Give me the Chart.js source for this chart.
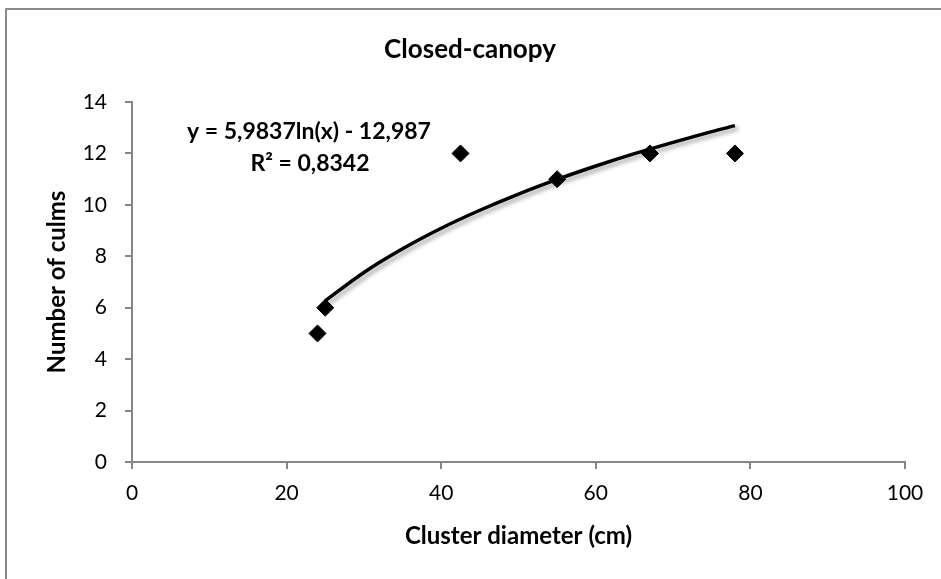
<!DOCTYPE html>
<html>
<head>
<meta charset="utf-8">
<script src="https://cdn.jsdelivr.net/npm/chart.js@4.4.0/dist/chart.umd.min.js"></script>
<style>
  html, body { margin: 0; padding: 0; background: #fff; overflow: hidden; }
  #wrap { position: relative; width: 941px; height: 579px; }
  #frame {
    position: absolute; left: 5px; top: 8px; width: 980px; height: 620px;
    border: 2px solid #8a8a8a; box-sizing: border-box; pointer-events: none;
  }
  canvas { position: absolute; left: 0; top: 0; }
</style>
</head>
<body>
<div id="wrap">
  <canvas id="c" width="941" height="579"></canvas>
  <div id="frame"></div>
</div>
<script>
// ── Data ───────────────────────────────────────────────
const TITLE      = 'Closed-canopy';
const X_LABEL    = 'Cluster diameter (cm)';
const Y_LABEL    = 'Number of culms';
const diameters  = [24, 25, 42.5, 55, 67, 78];
const culms      = [5, 6, 12, 11, 12, 12];
// log trendline
const trendX     = [25, 30, 35, 40, 45, 50, 55, 60, 65, 70, 75, 78];
const trendY     = [6.27, 7.37, 8.29, 9.09, 9.79, 10.42, 10.99, 11.51, 11.99, 12.43, 12.85, 13.08];
const EQ_LINES   = ['y = 5,9837ln(x) - 12,987', 'R² = 0,8342'];
const X_MIN = 0, X_MAX = 100, X_STEP = 20;
const Y_MIN = 0, Y_MAX = 14,  Y_STEP = 2;

const FONT   = 'Lato';
const AXIS_C = '#868686';

// ── Plugins ────────────────────────────────────────────
const _shadowPlugin = {
  id: 'trendShadow',
  beforeDatasetDraw(chart, args) {
    if (args.index !== 1) return;
    const ctx = chart.ctx;
    ctx.save();
    ctx.shadowColor = 'rgba(0,0,0,0.35)';
    ctx.shadowOffsetX = 3;
    ctx.shadowOffsetY = 3;
    ctx.shadowBlur = 4;
  },
  afterDatasetDraw(chart, args) {
    if (args.index !== 1) return;
    chart.ctx.restore();
  },
};

const _textPlugin = {
  id: 'texts',
  afterDraw(chart) {
    const { ctx, chartArea: ca } = chart;
    ctx.save();
    ctx.fillStyle = '#000';
    ctx.textAlign = 'center';
    ctx.textBaseline = 'alphabetic';
    ctx.font = `bold 26px ${FONT}`;
    ctx.fillText(TITLE, 470, 58);
    ctx.font = `bold 23px ${FONT}`;
    ctx.fillText(EQ_LINES[0], ca.left + 177, 139);
    ctx.fillText(EQ_LINES[1], ca.left + 178, 171);
    ctx.restore();
  },
};

// ── Chart ──────────────────────────────────────────────
const _TICK = { color: '#000', font: { family: FONT, size: 21 } };
const _AXT  = { family: FONT, size: 24, weight: 'bold' };

new Chart(document.getElementById('c'), {
  type: 'scatter',
  data: {
    datasets: [
      {
        label: 'points',
        data: diameters.map((x, i) => ({ x, y: culms[i] })),
        pointStyle: 'rectRot',
        pointRadius: 8.5,
        backgroundColor: '#000',
        borderColor: '#000',
        borderWidth: 1,
      },
      {
        label: 'trend',
        type: 'line',
        data: trendX.map((x, i) => ({ x, y: trendY[i] })),
        borderColor: '#000',
        borderWidth: 3.5,
        pointRadius: 0,
        cubicInterpolationMode: 'monotone',
        fill: false,
      },
    ],
  },
  options: {
    responsive: false,
    animation: false,
    layout: { padding: { top: 102, right: 36, left: 0, bottom: 0 } },
    scales: {
      x: {
        type: 'linear', min: X_MIN, max: X_MAX,
        ticks: { ..._TICK, stepSize: X_STEP, padding: 12, maxRotation: 0 },
        grid: { drawOnChartArea: false, drawTicks: true, tickLength: 7, color: AXIS_C, lineWidth: 2 },
        border: { color: AXIS_C, width: 2 },
        title: { display: true, text: X_LABEL, color: '#000', font: _AXT, padding: { top: 0, bottom: 28 } },
        afterFit: s => { s.height = 117; },
      },
      y: {
        type: 'linear', min: Y_MIN, max: Y_MAX,
        ticks: { ..._TICK, stepSize: Y_STEP, padding: 18 },
        grid: { drawOnChartArea: false, drawTicks: true, tickLength: 7, color: AXIS_C, lineWidth: 2 },
        border: { color: AXIS_C, width: 2 },
        title: { display: true, text: Y_LABEL, color: '#000', font: _AXT, padding: { top: 43, bottom: 0 } },
        afterFit: s => { s.width = 132; },
      },
    },
    plugins: {
      legend: { display: false },
      tooltip: { enabled: false },
      title: { display: false },
    },
  },
  plugins: [_shadowPlugin, _textPlugin],
});
</script>
</body>
</html>
